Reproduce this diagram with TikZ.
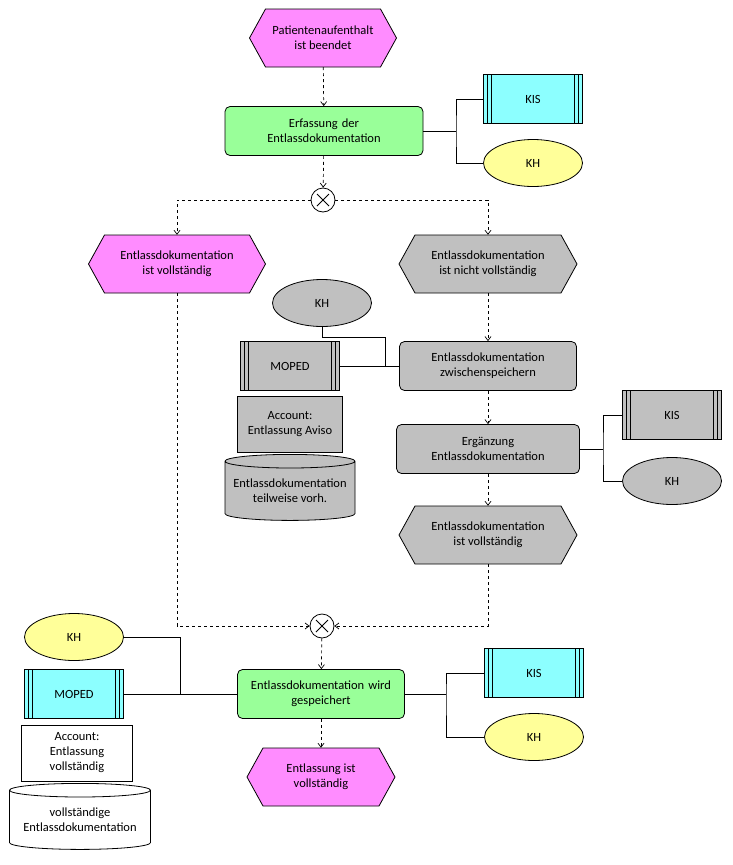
\documentclass[tikz,border=0pt]{standalone}
\usepackage{fontspec}
\setmainfont{Carlito}
\usepackage{tikz}
\usetikzlibrary{arrows.meta,positioning,calc,shapes.geometric}

\definecolor{evtpink}{HTML}{FF8CFF}
\definecolor{fngreen}{HTML}{99FF99}
\definecolor{syscyan}{HTML}{8CFFFF}
\definecolor{orgyellow}{HTML}{FFFF99}
\definecolor{grey}{HTML}{C0C0C0}

% event hexagon: name, centre, width, fill, text
\newcommand{\event}[5]{%
  \coordinate (#1c) at (#2);
  \filldraw[fill=#4,line width=0.8pt]
    ($(#1c)+({-#3/2},0)$) -- ($(#1c)+({-#3/2+16},-29)$) -- ($(#1c)+({#3/2-16},-29)$)
    -- ($(#1c)+({#3/2},0)$) -- ($(#1c)+({#3/2-16},29)$) -- ($(#1c)+({-#3/2+16},29)$) -- cycle;
  \node[txt,minimum width=#3,minimum height=58] (#1) at (#1c) {#5};
}

\begin{document}
\begin{tikzpicture}[x=1pt,y=-1pt,
  txt/.style={align=center,font=\fontsize{12.5}{15}\selectfont,inner sep=0pt},
  func/.style={txt,draw,line width=0.8pt,rounded corners=5pt,minimum height=49,text width=#1-8},
  sys/.style={txt,draw,line width=0.8pt,minimum width=99,minimum height=49,
    path picture={\foreach \d in {4,8}{
      \draw ($(path picture bounding box.north west)+(\d,0)$) -- ($(path picture bounding box.south west)+(\d,0)$);
      \draw ($(path picture bounding box.north east)+(-\d,0)$) -- ($(path picture bounding box.south east)+(-\d,0)$);}}},
  org/.style={txt,draw,line width=0.8pt,ellipse,minimum width=99,minimum height=47},
  info/.style={txt,draw,line width=0.8pt,minimum height=56},
  store/.style={txt,draw,line width=0.8pt,cylinder,shape border rotate=90,aspect=0.12,
    minimum height=66,cylinder uses custom fill},
  xor/.style={draw,circle,line width=0.8pt,minimum size=24,inner sep=0pt,fill=white,
    path picture={\draw ($(path picture bounding box.center)+(-6,-6)$) -- ++(12,12)
      ($(path picture bounding box.center)+(6,-6)$) -- ++(-12,12);}},
  flow/.style={dashed,line width=0.7pt,-{Straight Barb[length=4pt,width=6pt]}},
  link/.style={line width=0.8pt}]

  \useasboundingbox (0,0) rectangle (732,865);

  % first part
  \event{e1}{323,38}{147}{evtpink}{Patientenaufenthalt\\ist beendet}
  \node[func=206,fill=fngreen] (f1) at (324,131) {Erfassung der\\Entlassdokumentation};
  \node[sys,fill=syscyan] (kis1) at (533,99) {KIS};
  \node[org,fill=orgyellow] (kh1) at (533,163) {KH};
  \node[xor] (x1) at (323,200) {};
  \draw[link] (f1.east) -- (456,131) coordinate (j1);
  \draw[link] (kis1.west) -| (j1) |- (kh1.west);
  \draw[flow] (e1) -- (f1);
  \draw[flow] (f1) -- (x1);

  % branches
  \event{e2}{177,264}{177}{evtpink}{Entlassdokumentation\\ist vollständig}
  \event{e3}{488,264}{178}{grey}{Entlassdokumentation\\ist nicht vollständig}
  \draw[flow] (x1.west) -| (e2.north);
  \draw[flow] (x1.east) -| (e3.north);

  % intermediate storage
  \node[org,fill=grey] (kh2) at (322,303) {KH};
  \node[sys,fill=grey] (moped1) at (290,366) {MOPED};
  \node[func=185,fill=grey] (f2) at (488,366) {Entlassdokumentation\\zwischenspeichern};
  \node[info,fill=grey,minimum width=105] (acc1) at (290,424) {Account:\\Entlassung Aviso};
  \node[store,fill=grey,minimum width=130] (db1) at (290,491) {Entlassdokumentation\\teilweise vorh.};
  \draw[link] (f2.west) -- (385,366) coordinate (j2);
  \draw[link] (moped1.east) -- (j2);
  \draw[link] (kh2.south) |- (385,337) -- (j2);
  \draw[flow] (e3) -- (f2);

  % completion
  \node[func=191,fill=grey] (f3) at (488,449) {Ergänzung\\Entlassdokumentation};
  \node[sys,fill=grey] (kis2) at (672,415) {KIS};
  \node[org,fill=grey] (kh3) at (672,481) {KH};
  \draw[link] (f3.east) -- (603,449) coordinate (j3);
  \draw[link] (kis2.west) -| (j3) |- (kh3.west);
  \event{e4}{488,535}{178}{grey}{Entlassdokumentation\\ist vollständig}
  \draw[flow] (f2) -- (f3);
  \draw[flow] (f3) -- (e4);

  % join and saving
  \node[xor] (x2) at (322,626) {};
  \draw[flow] (e2.south) |- (x2.west);
  \draw[flow] (e4.south) |- (x2.east);
  \node[func=175,fill=fngreen] (f4) at (321,694) {Entlassdokumentation wird\\gespeichert};
  \node[sys,fill=syscyan] (kis3) at (534,673) {KIS};
  \node[org,fill=orgyellow] (kh4) at (534,737) {KH};
  \draw[link] (f4.east) -- (446,694) coordinate (j4);
  \draw[link] (kis3.west) -| (j4) |- (kh4.west);
  \node[org,fill=orgyellow] (kh5) at (74,637) {KH};
  \node[sys,fill=syscyan] (moped2) at (74,694) {MOPED};
  \node[info,fill=white,minimum width=111] (acc2) at (77,753) {Account:\\Entlassung\\vollständig};
  \node[store,fill=white,minimum width=141] (db2) at (80,820) {vollständige\\Entlassdokumentation};
  \draw[link] (f4.west) -- (180,694) coordinate (j5);
  \draw[link] (moped2.east) -- (j5);
  \draw[link] (kh5.east) -| (j5);
  \event{e5}{321,777}{148}{evtpink}{Entlassung ist\\vollständig}
  \draw[flow] (x2) -- (f4);
  \draw[flow] (f4) -- (e5);

\end{tikzpicture}
\end{document}
